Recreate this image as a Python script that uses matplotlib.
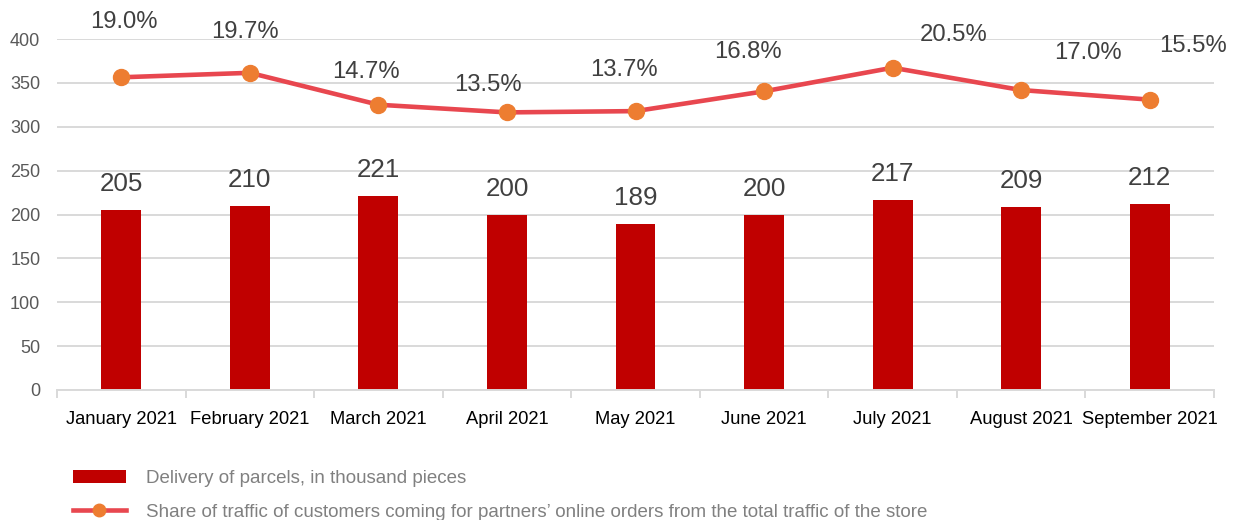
import matplotlib
matplotlib.use("Agg")
import matplotlib.pyplot as plt
from matplotlib.lines import Line2D
from matplotlib.patches import Patch

plt.rcParams['font.family'] = ['Liberation Sans', 'DejaVu Sans']

months = ["January 2021", "February 2021", "March 2021", "April 2021", "May 2021",
          "June 2021", "July 2021", "August 2021", "September 2021"]
parcels = [205, 210, 221, 200, 189, 200, 217, 209, 212]
share = [19.0, 19.7, 14.7, 13.5, 13.7, 16.8, 20.5, 17.0, 15.5]
yticks = [0, 50, 100, 150, 200, 250, 300, 350, 400]

# label offsets (pixels) for the percentage labels
pct_offsets = [(3, 55), (-5, 41), (-12, 33), (-19, 27), (-12, 41), (-16, 39), (61, 33), (67, 37), (43, 54)]

BAR = "#C00000"
LINE = "#E8474F"
MARK = "#ED7D31"
GRID = "#D9D9D9"
TXT = "#404040"

fig = plt.figure(figsize=(12.41, 5.2), dpi=100)
ax = fig.add_axes([57/1241, 1-390/520, (1214-57)/1241, (390-39)/520])

x = list(range(len(months)))
ax.bar(x, parcels, width=0.31, color=BAR, zorder=2)
ax.set_ylim(0, 400)
ax.set_xlim(-0.5, len(months)-0.5)
ax.set_yticks(yticks)
ax.yaxis.grid(True, color=GRID, linewidth=1.4, zorder=0)
ax.set_axisbelow(True)
for s in ['left', 'right', 'top']:
    ax.spines[s].set_visible(False)
ax.spines['bottom'].set_color(GRID)
ax.spines['bottom'].set_linewidth(1.4)
ax.set_xticks(x)
ax.set_xticklabels(months, fontsize=13.2, color='black')
ax.set_xticks([i - 0.5 for i in range(len(months)+1)], minor=True)
ax.tick_params(axis='x', which='major', length=0, pad=15)
ax.tick_params(axis='x', which='minor', length=6, color=GRID, width=1.4)
ax.tick_params(axis='y', length=0, pad=12, labelsize=13, labelcolor='#595959')

for xi, v in zip(x, parcels):
    ax.annotate(f"{v}", (xi, v), xytext=(0, 26), textcoords='offset pixels',
                ha='center', va='center', fontsize=18.7, color=TXT)

ax2 = ax.twinx()
ax2.set_ylim(-30, 25)
ax2.plot(x, share, color=LINE, linewidth=3.3, marker='o', markersize=11.5,
         markerfacecolor=MARK, markeredgecolor=MARK, zorder=3)
ax2.axis('off')
for xi, v, (dx, dy) in zip(x, share, pct_offsets):
    ax2.annotate(f"{v:.1f}%", (xi, v), xytext=(dx, dy), textcoords='offset pixels',
                 ha='center', va='center', fontsize=17.2, color=TXT)

handles = [Patch(facecolor=BAR, edgecolor='none'),
           Line2D([0], [0], color=LINE, linewidth=3.3, marker='o', markersize=9,
                  markerfacecolor=MARK, markeredgecolor=MARK)]
labels = ["Delivery of parcels, in thousand pieces",
          "Share of traffic of customers coming for partners\u2019 online orders from the total traffic of the store"]
leg = fig.legend(handles, labels, loc='upper left', bbox_to_anchor=(73/1241, 1-470/520),
                 frameon=False, fontsize=13.5, handlelength=2.8, handleheight=0.65,
                 labelspacing=0.9, handletextpad=1.1, borderaxespad=0, borderpad=0)
for t in leg.get_texts():
    t.set_color('#808080')

fig.savefig("out.png", dpi=100)
